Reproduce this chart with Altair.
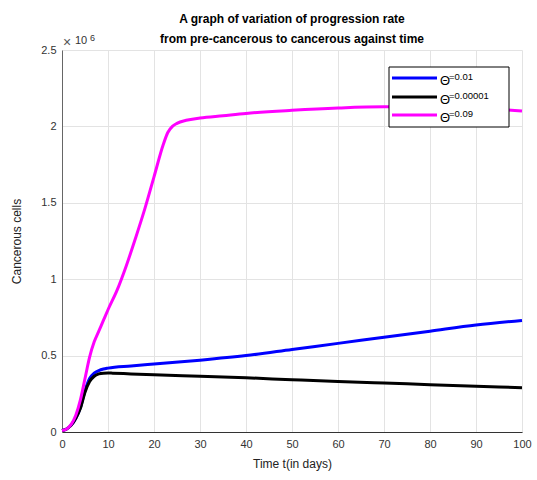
import altair as alt
import pandas as pd

t_mag = [0, 1, 2, 3, 4, 5, 6, 7, 8, 9, 10, 12, 14, 16, 18, 20, 22, 23, 24, 25, 27, 30, 35, 40, 50, 60, 70, 80, 90, 100]
y_mag = [0.01, 0.02, 0.05, 0.11, 0.21, 0.35, 0.49, 0.59, 0.66, 0.73, 0.8, 0.93, 1.09, 1.27, 1.46, 1.67, 1.88, 1.96, 2.0, 2.02, 2.04, 2.055, 2.07, 2.085, 2.105, 2.12, 2.128, 2.128, 2.12, 2.10]

t_blue = [0, 1, 2, 3, 4, 5, 6, 7, 8, 9, 10, 15, 20, 30, 40, 50, 60, 70, 80, 90, 100]
y_blue = [0.01, 0.02, 0.045, 0.09, 0.16, 0.27, 0.35, 0.385, 0.402, 0.412, 0.418, 0.432, 0.445, 0.47, 0.5, 0.54, 0.58, 0.62, 0.66, 0.70, 0.73]

t_blk = [0, 1, 2, 3, 4, 5, 6, 7, 8, 9, 10, 11, 15, 20, 30, 40, 50, 60, 70, 80, 90, 100]
y_blk = [0.01, 0.02, 0.045, 0.09, 0.155, 0.26, 0.33, 0.365, 0.38, 0.385, 0.386, 0.385, 0.38, 0.374, 0.365, 0.355, 0.342, 0.33, 0.32, 0.31, 0.30, 0.29]

theta_vals = ["=0.01", "=0.00001", "=0.09"]
labels = ["Θ" + v for v in theta_vals]
colors = ["#0000ff", "#000000", "#ff00ff"]

rows = []
for t, y in zip(t_blue, y_blue):
    rows.append({"t": t, "y": y, "s": labels[0]})
for t, y in zip(t_blk, y_blk):
    rows.append({"t": t, "y": y, "s": labels[1]})
for t, y in zip(t_mag, y_mag):
    rows.append({"t": t, "y": y, "s": labels[2]})
df = pd.DataFrame(rows)

font = "Liberation Sans"

lines = alt.Chart(df).mark_line(strokeWidth=3, interpolate="monotone").encode(
    x=alt.X("t:Q", scale=alt.Scale(domain=[0, 100], nice=False),
            axis=alt.Axis(title="Time t(in days)", values=list(range(0, 101, 10)),
                          grid=True, ticks=False, labelPadding=6, titlePadding=9,
                          labelFlush=False, domainColor="#333333")),
    y=alt.Y("y:Q", scale=alt.Scale(domain=[0, 2.5], nice=False),
            axis=alt.Axis(title="Cancerous cells", values=[0, 0.5, 1, 1.5, 2, 2.5],
                          format="~g", grid=True, ticks=False, labelPadding=6, titlePadding=17,
                          labelFlush=False, domainColor="#666666")),
    color=alt.Color("s:N", scale=alt.Scale(domain=labels, range=colors), legend=None),
    detail="s:N",
)

one = pd.DataFrame({"a": [1]})

# legend box
layers = [lines]
layers.append(alt.Chart(one).mark_rect(fill="#ffffff", stroke="#000000", strokeWidth=1).encode(
    x=alt.value(327), x2=alt.value(447), y=alt.value(17), y2=alt.value(77)))
ys = [28, 47, 65]
for i in range(3):
    d = pd.DataFrame({"th": ["Θ"], "v": [theta_vals[i]]})
    layers.append(alt.Chart(d).mark_rule(strokeWidth=3, color=colors[i]).encode(
        x=alt.value(330), x2=alt.value(375), y=alt.value(ys[i])))
    layers.append(alt.Chart(d).mark_text(align="left", baseline="alphabetic", fontSize=13,
                                         font=font, color="#000000").encode(
        x=alt.value(378), y=alt.value(ys[i] + 7), text="th:N"))
    layers.append(alt.Chart(d).mark_text(align="left", baseline="alphabetic", fontSize=9.5,
                                         font=font, color="#000000").encode(
        x=alt.value(387), y=alt.value(ys[i] + 2), text="v:N"))

layers.append(alt.Chart(pd.DataFrame({"txt": ["×"]})).mark_text(
    align="left", baseline="alphabetic", fontSize=14, font=font, color="#555555", fontWeight=100
).encode(x=alt.value(1), y=alt.value(-3), text="txt:N"))
layers.append(alt.Chart(pd.DataFrame({"txt": ["10"]})).mark_text(
    align="left", baseline="alphabetic", fontSize=11, font=font, color="#333333"
).encode(x=alt.value(13), y=alt.value(-6), text="txt:N"))
layers.append(alt.Chart(pd.DataFrame({"txt": ["6"]})).mark_text(
    align="left", baseline="alphabetic", fontSize=9, font=font, color="#333333"
).encode(x=alt.value(28), y=alt.value(-9), text="txt:N"))

chart = alt.layer(*layers).properties(
    width=460, height=382,
    padding={"left": 62, "top": 50, "right": 15, "bottom": 48},
    autosize=alt.AutoSizeParams(type="none"),
    title=alt.TitleParams(
        text=["A graph of variation of progression rate", "from pre-cancerous to cancerous against time"],
        fontSize=12, fontWeight="bold", font=font, anchor="middle", offset=8, dy=20,
        lineHeight=20, color="#000000"),
).configure_view(stroke=None).configure_axis(
    labelFont=font, titleFont=font, labelFontSize=11, titleFontSize=12,
    titleFontWeight="normal", labelColor="#333333", titleColor="#222222",
    gridColor="#e3e3e3"
)

chart.save("out.html", embed_options={"renderer": "svg", "actions": False})
